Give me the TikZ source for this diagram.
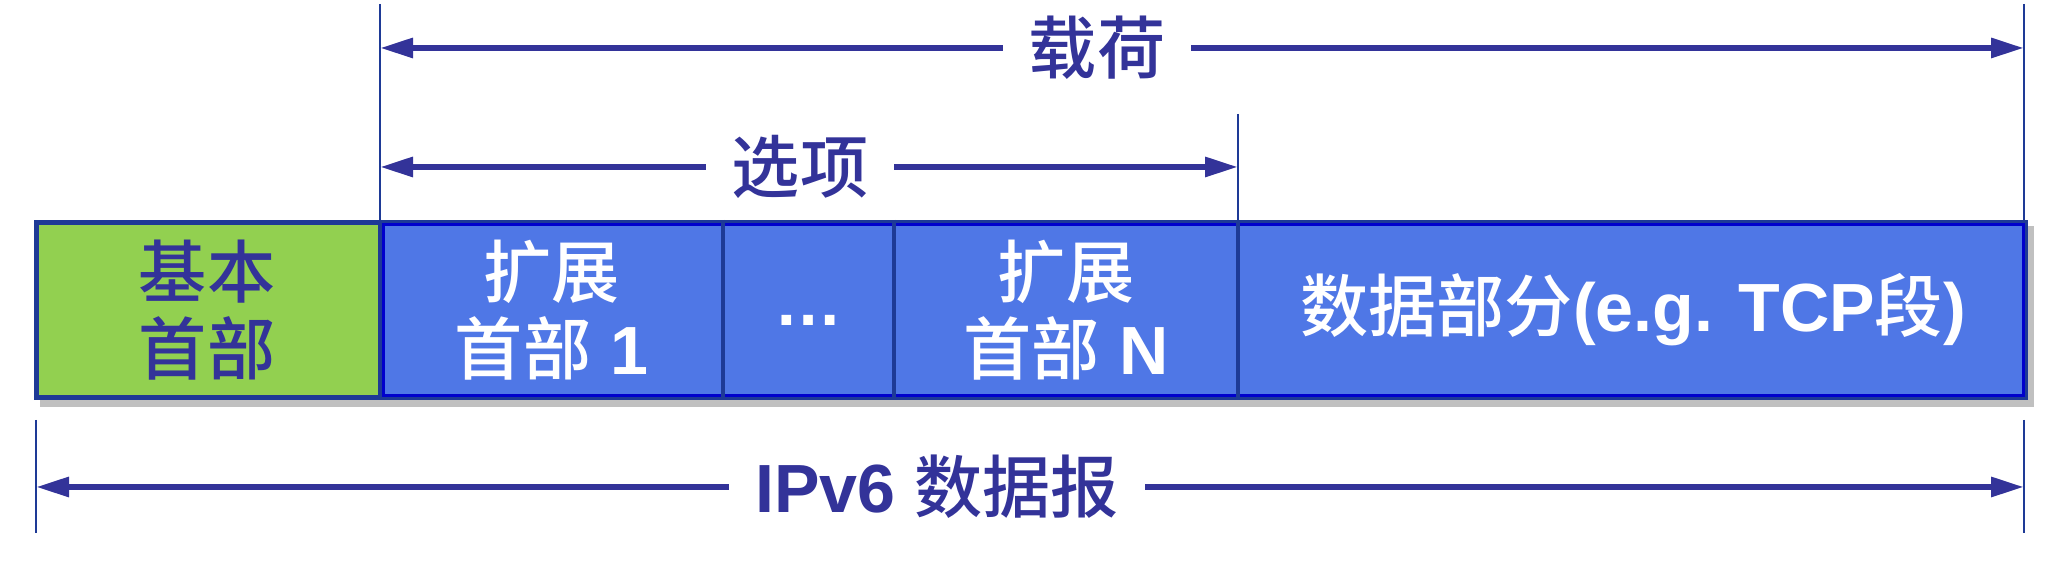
\documentclass[tikz,border=0pt]{standalone}
\usepackage{fontspec}
\setmainfont{Liberation Sans}
\newfontfamily\cjk{Noto Sans CJK SC Medium}
\usepackage{tikz}
\usetikzlibrary{arrows.meta,positioning}
\definecolor{ink}{HTML}{333399}
\definecolor{rim}{HTML}{1E3A96}
\definecolor{edge}{HTML}{0000CC}
\definecolor{hdr}{HTML}{92D050}
\definecolor{seg}{HTML}{4F77E6}
\definecolor{shd}{HTML}{C0C0C0}
\newcommand{\zhtext}[1]{{\cjk\mdseries #1}}

\begin{document}
\begin{tikzpicture}[
  cell/.style={minimum height=18mm,inner sep=0pt,outer sep=0pt,align=center,anchor=south west,
    font=\fontsize{19.4pt}{21.9pt}\selectfont\bfseries},
  basebox/.style={cell,fill=hdr,text=ink},
  extbox/.style={cell,fill=seg,text=white},
  lbl/.style={inner xsep=2.5mm,inner ysep=0pt,text=ink,font=\fontsize{19.4pt}{21.9pt}\selectfont\bfseries},
  dim/.style={{Triangle[length=3.3mm,width=1.9mm]}-,ink,line width=0.6mm},
  tick/.style={rim,line width=0.28mm},
  divider/.style={rim,line width=0.38mm},
]
\useasboundingbox (0,0) rectangle (20.53,5.61);
\fill[shd] (0.40,1.54) rectangle (20.34,3.35);

\node[basebox,minimum width=34.6mm] (hdr) at (0.34,1.61) {\zhtext{基本}\\\zhtext{首部}};
\node[extbox,right=0pt of hdr,minimum width=34.3mm] (ext1) {\zhtext{扩展}\\\zhtext{首部} 1};
\node[extbox,right=0pt of ext1,minimum width=17.1mm] (dots) {\strut …};
\node[extbox,right=0pt of dots,minimum width=34.4mm] (extN) {\zhtext{扩展}\\\zhtext{首部} N};
\node[extbox,right=0pt of extN,minimum width=79.0mm] (data) {\zhtext{数据部分}(e.g. TCP\zhtext{段})};

\draw[rim,line width=0.5mm] ([shift={(0.25mm,0.25mm)}]hdr.south west) rectangle ([shift={(-0.25mm,-0.25mm)}]data.north east);
\draw[edge,line width=0.3mm] ([shift={(0.3mm,0.42mm)}]ext1.south west) rectangle ([shift={(-0.42mm,-0.42mm)}]data.north east);
\foreach \c in {ext1,dots,extN,data}
  \draw[divider] (\c.north west) -- (\c.south west);

\coordinate (payL) at (3.80,5.57);
\coordinate (payR) at (20.24,5.57);
\coordinate (optR) at (12.38,4.47);
\coordinate (pktL) at (0.36,1.41);
\coordinate (pktR) at (20.24,1.41);
\draw[tick] (payL) -- (payL |- hdr.north);
\draw[tick] (payR) -- (payR |- data.north);
\draw[tick] (optR) -- (optR |- data.north);
\draw[tick] (pktL) -- ++(0,-1.13);
\draw[tick] (pktR) -- ++(0,-1.13);

\node[lbl] (pay) at (10.97,5.13) {\zhtext{载荷}};
\node[lbl] (opt) at (8.00,3.94) {\zhtext{选项}};
\node[lbl] (pkt) at (9.37,0.74) {IPv6 \zhtext{数据报}};

\draw[dim] (payL |- pay) -- (pay.west);
\draw[dim] (payR |- pay) -- (pay.east);
\draw[dim] (payL |- opt) -- (opt.west);
\draw[dim] (optR |- opt) -- (opt.east);
\draw[dim] (pktL |- pkt) -- (pkt.west);
\draw[dim] (pktR |- pkt) -- (pkt.east);
\end{tikzpicture}
\end{document}
